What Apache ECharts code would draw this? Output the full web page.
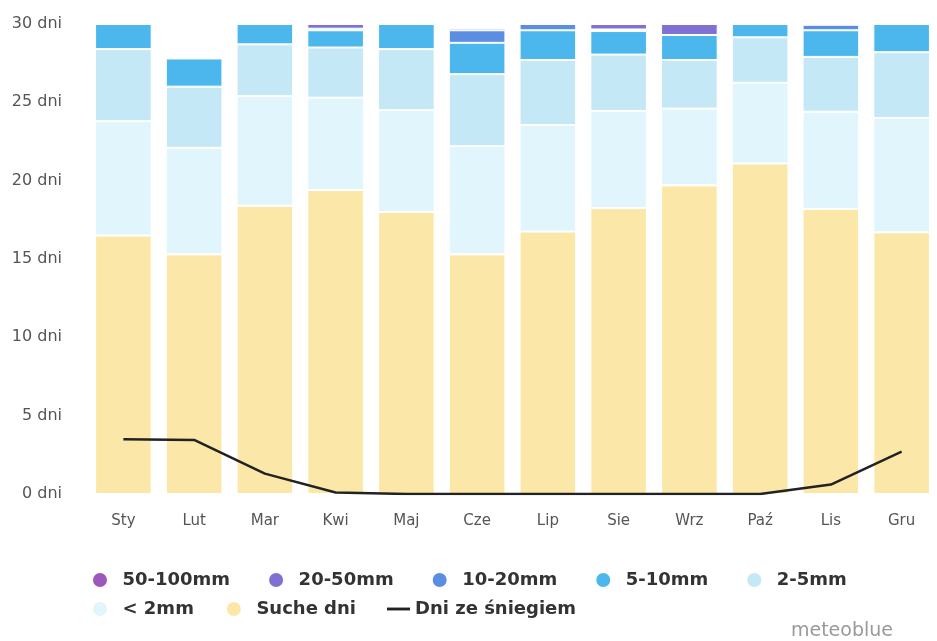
<!DOCTYPE html>
<html>
<head>
<meta charset="utf-8">
<script src="https://cdn.jsdelivr.net/npm/echarts@6/dist/echarts.min.js"></script>
<style>
  html, body { margin: 0; padding: 0; background: #fff; }
  #chart { width: 937px; height: 641px; }
</style>
</head>
<body>
<div id="chart"></div>
<script>
// Monthly precipitation-day breakdown (days per month) and snow days
const months = ['Sty', 'Lut', 'Mar', 'Kwi', 'Maj', 'Cze', 'Lip', 'Sie', 'Wrz', 'Paź', 'Lis', 'Gru'];

const dryDays   = [16.5, 15.3, 18.4, 19.4, 18.0, 15.3, 16.75, 18.25, 19.7, 21.1, 18.2, 16.7];
const below2mm  = [7.3, 6.8, 7.0, 5.9, 6.5, 6.9, 6.8, 6.2, 4.9, 5.15, 6.2, 7.3];
const mm2to5    = [4.6, 3.9, 3.3, 3.2, 3.9, 4.6, 4.15, 3.6, 3.1, 2.9, 3.5, 4.2];
const mm5to10   = [1.6, 1.8, 1.3, 1.1, 1.6, 2.0, 1.9, 1.5, 1.6, 0.85, 1.7, 1.8];
const mm10to20  = [0, 0, 0, 0.1, 0, 0.8, 0.4, 0.1, 0, 0, 0.35, 0];
const mm20to50  = [0, 0, 0, 0.3, 0, 0.15, 0, 0.35, 0.7, 0, 0.05, 0];
const mm50to100 = [0, 0, 0, 0, 0, 0, 0, 0, 0, 0, 0, 0];
const snowDays  = [3.5, 3.45, 1.3, 0.1, 0, 0, 0, 0, 0, 0, 0.6, 2.7];

const yTicks = { min: 0, max: 30, interval: 5 };

const FONT = "'DejaVu Sans', sans-serif";

const barDefs = [
  { name: 'Suche dni', data: dryDays,   color: '#fbe8a8' },
  { name: '< 2mm',     data: below2mm,  color: '#e0f6fc' },
  { name: '2-5mm',     data: mm2to5,    color: '#c4e8f5' },
  { name: '5-10mm',    data: mm5to10,   color: '#4bb7ec' },
  { name: '10-20mm',   data: mm10to20,  color: '#5b8de2' },
  { name: '20-50mm',   data: mm20to50,  color: '#7f70d4' },
  { name: '50-100mm',  data: mm50to100, color: '#9c58bc' }
];

const barSeries = barDefs.map(d => ({
  name: d.name,
  type: 'bar',
  stack: 'days',
  data: d.data,
  barCategoryGap: '20%',
  itemStyle: { color: d.color, borderColor: '#ffffff', borderWidth: 1 },
  emphasis: { disabled: true }
}));

const legendText = {
  fontFamily: FONT,
  fontSize: 18,
  fontWeight: 'bold',
  color: '#333',
  padding: [0, 0, 0, 6]
};

// flat dash used as the legend key of the snow line
const dashIcon = 'path://M0,0 L24,0 L24,3 L0,3 Z';

const chart = echarts.init(document.getElementById('chart'));
chart.setOption({
  animation: false,
  backgroundColor: '#ffffff',
  grid: { left: 88, width: 858, top: 24, bottom: 147 },
  xAxis: {
    type: 'category',
    data: months,
    axisLine: { show: false },
    axisTick: { show: false },
    axisLabel: { color: '#555', fontFamily: FONT, fontSize: 15, margin: 20 }
  },
  yAxis: {
    type: 'value',
    min: yTicks.min,
    max: yTicks.max,
    interval: yTicks.interval,
    splitLine: { show: false },
    axisLine: { show: false },
    axisTick: { show: false },
    axisLabel: {
      color: '#555', fontFamily: FONT, fontSize: 16, margin: 26,
      formatter: '{value} dni'
    }
  },
  legend: [
    {
      data: ['50-100mm', '20-50mm', '10-20mm', '5-10mm', '2-5mm'],
      left: 86, top: 566,
      icon: 'circle', itemWidth: 23, itemHeight: 16, itemGap: 37,
      textStyle: legendText,
      selectedMode: false
    },
    {
      data: [
        { name: '< 2mm', icon: 'circle' },
        { name: 'Suche dni', icon: 'circle' },
        { name: 'Dni ze śniegiem', icon: dashIcon, textStyle: { padding: 0 } }
      ],
      left: 86, top: 595,
      itemWidth: 23, itemHeight: 16, itemGap: 31,
      textStyle: legendText,
      selectedMode: false
    }
  ],
  graphic: [{
    type: 'text',
    right: 44, bottom: 0,
    style: { text: 'meteoblue', fill: '#999', font: "19px " + FONT }
  }],
  series: barSeries.concat([{
    name: 'Dni ze śniegiem',
    type: 'line',
    data: snowDays,
    symbol: 'none',
    z: 10,
    color: '#222',
    lineStyle: { color: '#222', width: 2.5 },
    emphasis: { disabled: true }
  }])
});
</script>
</body>
</html>
